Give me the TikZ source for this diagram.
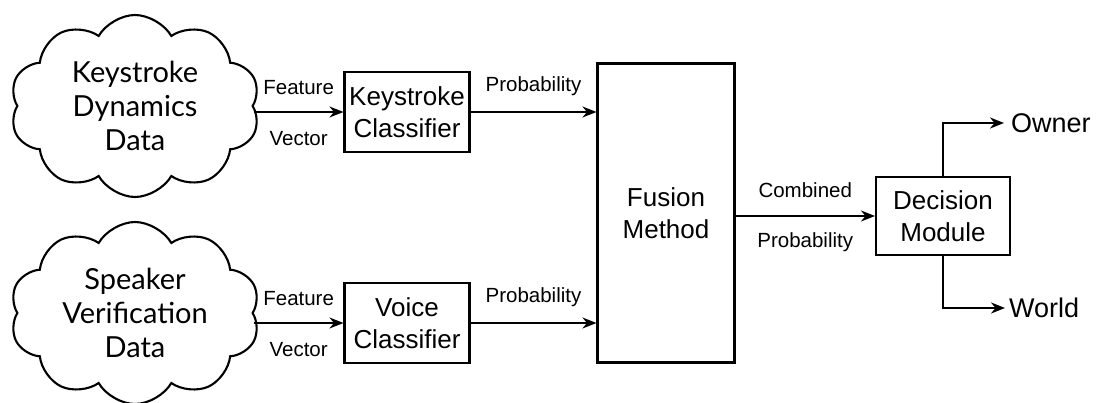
\documentclass[tikz,border=0pt]{standalone}
\usepackage{fontspec}
\setmainfont{Liberation Sans}
\newfontfamily\cloudfont{Lato}
\usetikzlibrary{arrows.meta,calc,positioning,shapes.symbols}

\begin{document}
\begin{tikzpicture}[x=1pt,y=-1pt,
  line width=2.1pt,
  datacloud/.style={cloud,cloud puffs=10,cloud puff arc=120,aspect=1.4,draw,
    minimum width=250pt,minimum height=182pt,inner sep=0pt,align=center,
    font=\cloudfont\fontsize{29}{34}\selectfont},
  block/.style={draw,rectangle,align=center,inner sep=0pt,
    font=\fontsize{26}{32}\selectfont},
  lbl/.style={font=\fontsize{20.5}{24}\selectfont,inner sep=0pt},
  outlbl/.style={font=\fontsize{27}{32}\selectfont,inner sep=0pt,anchor=west},
  flow/.style={-{Stealth[length=14pt,width=11pt]}}]
  \useasboundingbox (0,0) rectangle (1100,403);
  % data sources
  \node[datacloud] (kdata) at (135,106) {Keystroke\\Dynamics\\Data};
  \node[datacloud] (sdata) at (135,313) {Speaker\\Verification\\Data};
  % classifiers
  \node[block,minimum width=125pt,minimum height=80pt] (kclass) at (407,112) {Keystroke\\Classifier};
  \node[block,minimum width=125pt,minimum height=80pt] (vclass) at (407,323) {Voice\\Classifier};
  \node[block,minimum width=137pt,minimum height=299pt] (fusion) at (666,213) {Fusion\\Method};
  \node[block,minimum width=134pt,minimum height=78pt] (decision) at (943,216) {Decision\\Module};
  % outcomes
  \node[outlbl] (owner) at (1010,123) {Owner};
  \node[outlbl] (world) at (1008,308) {World};

  \draw[flow] (kclass.west -| kdata.east) -- (kclass.west)
    node[lbl,midway,above=16pt] {Feature}
    node[lbl,midway,below=18pt] {Vector};
  \draw[flow] (vclass.west -| sdata.east) -- (vclass.west)
    node[lbl,midway,above=16pt] {Feature}
    node[lbl,midway,below=18pt] {Vector};
  \draw[flow] (kclass.east) -- (kclass.east -| fusion.west)
    node[lbl,midway,above=15pt] {Probability};
  \draw[flow] (vclass.east) -- (vclass.east -| fusion.west)
    node[lbl,midway,above=15pt] {Probability};
  \draw[flow] (decision.west -| fusion.east) -- (decision.west)
    node[lbl,midway,above=17pt] {Combined}
    node[lbl,midway,below=16pt] {Probability};
  \draw[flow] (decision.north) |- ([xshift=-6pt]owner.west);
  \draw[flow] (decision.south) |- ([xshift=-3pt]world.west);
\end{tikzpicture}
\end{document}
